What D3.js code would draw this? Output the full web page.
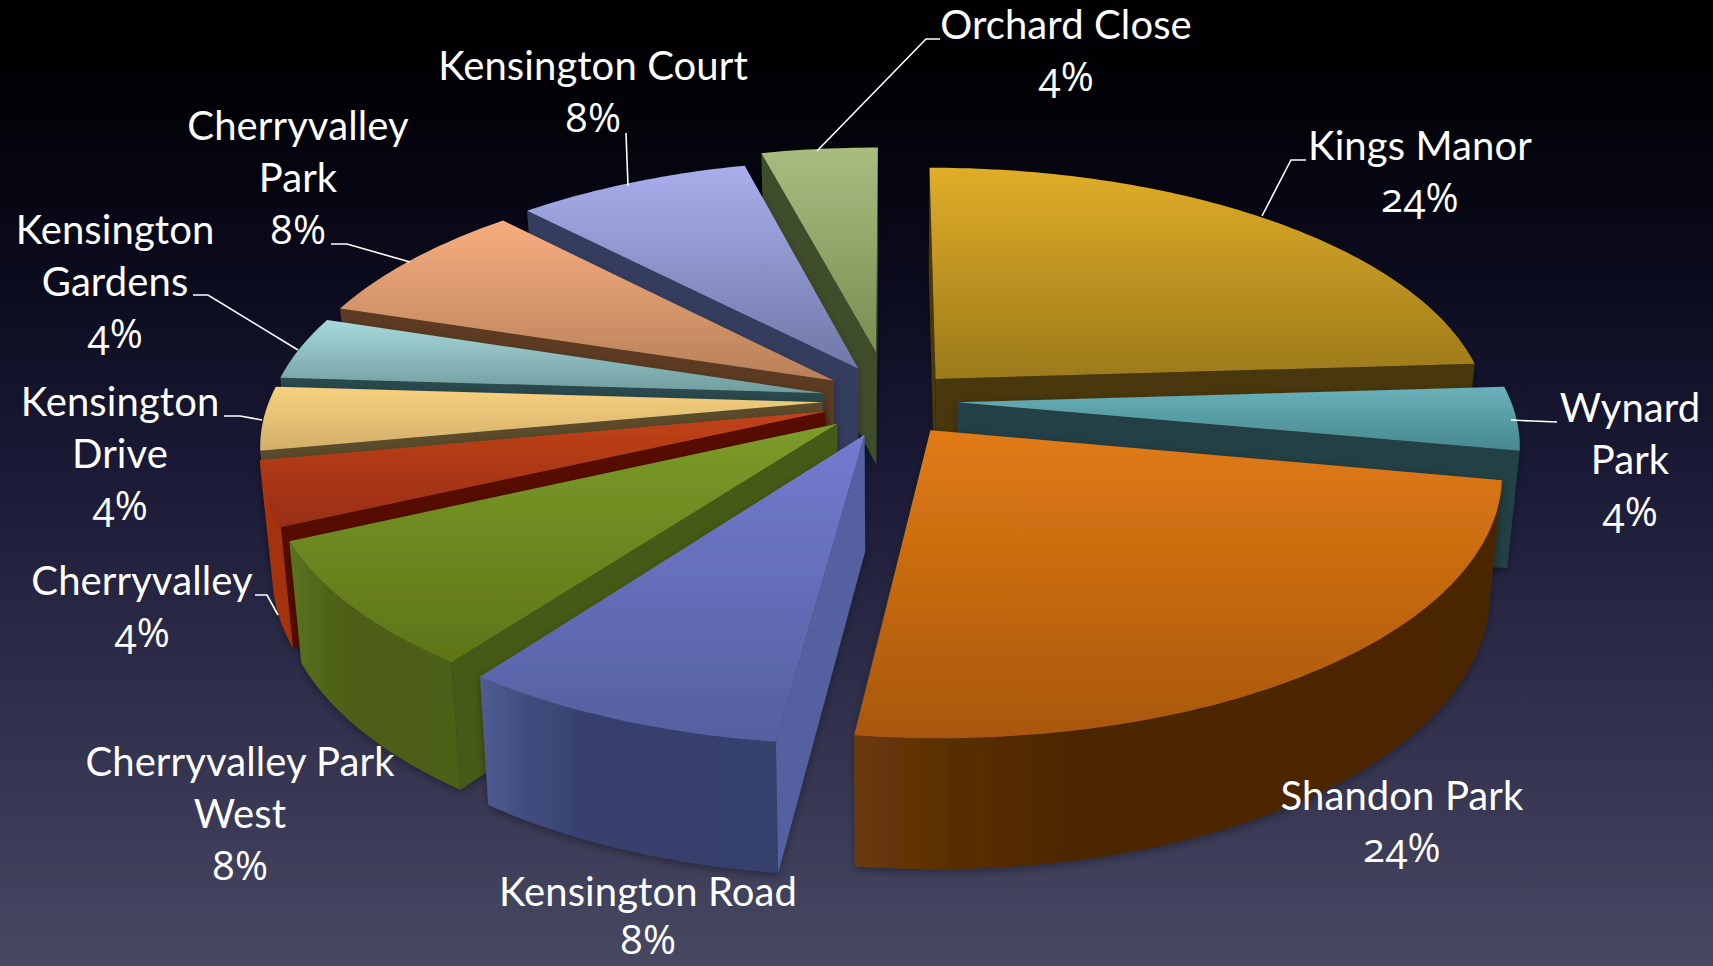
<!DOCTYPE html>
<html><head><meta charset="utf-8">
<script src="https://cdn.jsdelivr.net/npm/d3@7/dist/d3.min.js"></script>
<style>html,body{margin:0;padding:0;background:#000;overflow:hidden}svg{display:block}
text{font-family:Lato,"Open Sans",sans-serif;font-size:40px;letter-spacing:.1px;fill:#fff;text-anchor:middle}
tspan.pct{font-family:"Open Sans",Lato,sans-serif;font-size:40px;letter-spacing:0;font-feature-settings:"onum" 1,"pnum" 1;font-variant-numeric:oldstyle-nums}</style>
</head><body><svg id="c" width="1713" height="966"></svg>
<script>
const categories = ["Kings Manor","Wynard Park","Shandon Park","Kensington Road","Cherryvalley Park West","Cherryvalley","Kensington Drive","Kensington Gardens","Cherryvalley Park","Kensington Court","Orchard Close"];
const values = [24,4,24,8,8,4,4,4,8,8,4];
const topLight = ["#e0ad28","#69b1b9","#e17b14","#737bd0","#7c9c2a","#c2431a","#f8d17f","#a9d9dc","#f7ae80","#a9aeeb","#a9bd81"];
const topDark = ["#9c7a1a","#488890","#a8570c","#5560a0","#5e7418","#982e12","#d2ae69","#6f9c9e","#b88058","#7078a8","#788f50"];
const sideColor = ["#4a370a","#214045","#4f2a05","#5560a0","#455a16","#561006","#5c4c2c","#2b4a4e","#5c3a22","#363c5e","#414d29"];
const outerDark = ["#4a370a","#1f4146","#4a2603","#363f6d","#4c5e15","#a3300f","#5c4c2c","#2b4a4e","#5c3a22","#363c5e","#414d29"];
const outerLight = ["#4a370a","#27484d","#6c3a08","#4f5d93","#5a7420","#b03a14","#5c4c2c","#2b4a4e","#5c3a22","#363c5e","#414d29"];
const explodeX = [1,1,1,1,1,1,1,1,1,1,1.7];
const explodeY = [.96,1.2,1.2,1.2,1.2,1.2,1.2,1.2,1.2,1.2,1.63];
const labelLines = [["Kings Manor","24%"],["Wynard","Park","4%"],["Shandon Park","24%"],["Kensington Road","8%"],["Cherryvalley Park","West","8%"],["Cherryvalley","4%"],["Kensington","Drive","4%"],["Kensington","Gardens","4%"],["Cherryvalley","Park","8%"],["Kensington Court","8%"],["Orchard Close","4%"]];
const labelAt = [[1420,160],[1630,422],[1402,810],[648,906],[240,776],[142,595],[120,416],[115,244],[298,140],[593,80],[1066,39]];
const lineGap = [52,52,52,48,52,52,52,52,52,52,52];
const leaders = [[[1306,160],[1291,160],[1262,216]],[[1557,422],[1533,421],[1511,420]],[],[],[],[[255,595],[267,595],[278,615]],[[224,416],[240,416],[262,420]],[[193,295],[208,295],[298,350]],[[331,244],[347,244],[410,262]],[[626,133],[628,186]],[[940,39],[926,39],[817,151]]];

const W=1713,H=966;
const svg=d3.select("#c");
const defs=svg.append("defs");
const bg=defs.append("linearGradient").attr("id","bg").attr("x1",0).attr("x2",0).attr("y1",0).attr("y2",1);
[[0,"#000000"],[.12,"#020208"],[.3,"#0c0c20"],[.5,"#1b1b38"],[.65,"#292945"],[.85,"#3a3a56"],[1,"#474962"]].forEach(s=>bg.append("stop").attr("offset",s[0]).attr("stop-color",s[1]));
svg.append("rect").attr("width",W).attr("height",H).attr("fill","url(#bg)");
const sh=defs.append("filter").attr("id","sh").attr("x","-10%").attr("y","-10%").attr("width","120%").attr("height","120%");
sh.append("feDropShadow").attr("dx",0).attr("dy",3).attr("stdDeviation",4).attr("flood-color","#000").attr("flood-opacity",.35);

// projection
const px=d3.scaleLinear().domain([0,1]).range([0,553]);
const py=d3.scaleLinear().domain([0,1]).range([0,250]);
const cx=890,cy=400,persp=.155,explode=.122,depth=115;
function project(x,y,z){ const s=1/(1-persp*y);
  return [cx+px(x)*s*(1-.02*z), cy+py(y)*s+z*depth*Math.pow(s,.68)]; }
const arcs=d3.pie().sort(null).value(d=>d).startAngle(0).endAngle(2*Math.PI)(values);
const path=d3.line().curve(d3.curveLinearClosed);
const sgn=p=>{let a=0;p.forEach((q,i)=>{const r=p[(i+1)%p.length];a+=q[0]*r[1]-r[0]*q[1]});return a};

const slices=arcs.map((a,i)=>{
  const mid=(a.startAngle+a.endAngle)/2;
  const ox=Math.sin(mid)*explode*explodeX[i], oy=-Math.cos(mid)*explode*explodeY[i];
  return {i,a,ox,oy};
}).sort((p,q)=>p.oy-q.oy);

const root=svg.append("g");
slices.forEach(({i,a,ox,oy})=>{
  const g=root.append("g").attr("filter","url(#sh)");
  const pt=(th,r,z)=>project(ox+Math.sin(th)*r,oy-Math.cos(th)*r,z);
  const n=Math.max(6,Math.round((a.endAngle-a.startAngle)*60));
  const ths=d3.range(n+1).map(k=>a.startAngle+(a.endAngle-a.startAngle)*k/n);
  // curved outer wall: the visible run of segments, one polygon with a horizontal gradient
  const vis=d3.range(n).filter(k=>sgn([pt(ths[k],1,0),pt(ths[k+1],1,0),pt(ths[k+1],1,1),pt(ths[k],1,1)])<0);
  if(vis.length){
    const run=ths.slice(vis[0],vis[vis.length-1]+2);
    const poly=run.map(t=>pt(t,1,0)).concat(run.slice().reverse().map(t=>pt(t,1,1)));
    const [x0,x1]=d3.extent(poly,p=>p[0]);
    const wg=defs.append("linearGradient").attr("id","w"+i).attr("gradientUnits","userSpaceOnUse")
      .attr("x1",x0).attr("x2",x1).attr("y1",0).attr("y2",0);
    const col=d3.interpolateRgb(outerLight[i],outerDark[i]);
    [[0,0],[.15,.55],[.35,.95],[1,1]].forEach(s=>wg.append("stop").attr("offset",s[0]).attr("stop-color",col(s[1])));
    g.append("path").attr("d",path(poly)).attr("fill",`url(#w${i})`);
  }
  [a.startAngle,a.endAngle].forEach((th,w)=>{
    const q=[pt(0,0,0),pt(th,1,0),pt(th,1,1),pt(0,0,1)];
    const show=w===1?sgn(q)>0:sgn(q)<0;
    if(show) g.append("path").attr("d",path(q)).attr("fill",sideColor[i]);
  });
  const gr=defs.append("linearGradient").attr("id","t"+i).attr("x1",0).attr("x2",0).attr("y1",0).attr("y2",1);
  gr.append("stop").attr("offset",0).attr("stop-color",topLight[i]);
  gr.append("stop").attr("offset",1).attr("stop-color",topDark[i]);
  const top=[pt(0,0,0)].concat(ths.map(t=>pt(t,1,0)));
  g.append("path").attr("d",path(top)).attr("fill",`url(#t${i})`);
});

const lg=svg.append("g");
const leader=d3.line();
leaders.forEach(l=>{ if(l.length) lg.append("path").attr("d",leader(l)).attr("fill","none").attr("stroke","#fff").attr("stroke-width",1.6); });
labelLines.forEach((ls,i)=>{
  const t=lg.append("text").attr("x",labelAt[i][0]).attr("y",labelAt[i][1]);
  ls.forEach((s,k)=>t.append("tspan").attr("class",s.endsWith("%")?"pct":null).attr("x",labelAt[i][0]).attr("dy",k?lineGap[i]:0).text(s));
});
</script></body></html>
